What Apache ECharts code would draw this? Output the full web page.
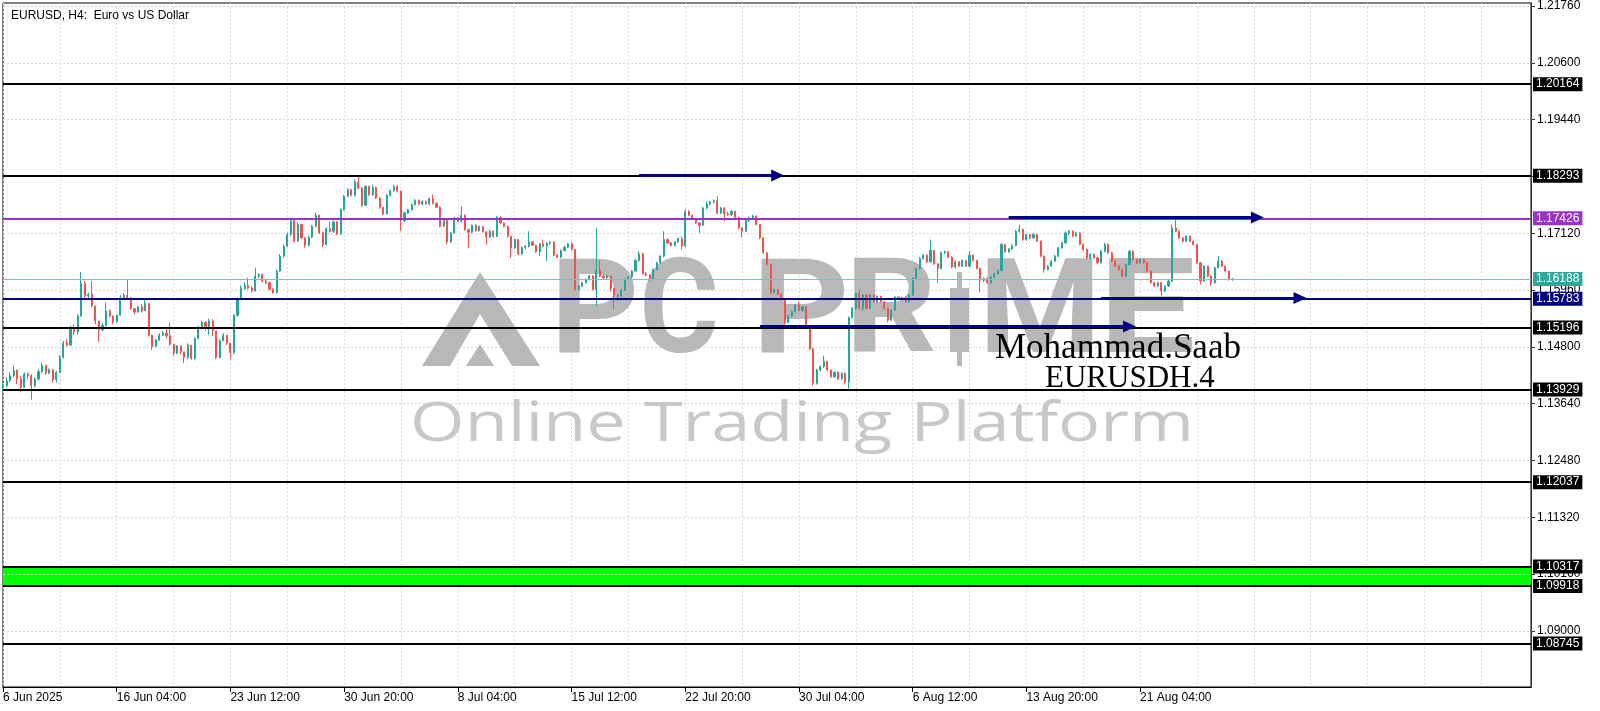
<!DOCTYPE html>
<html>
<head>
<meta charset="utf-8">
<title>EURUSD H4</title>
<script src="https://cdn.jsdelivr.net/npm/echarts@6/dist/echarts.min.js"></script>
<style>
  html, body { margin: 0; padding: 0; background: #fff; }
  #chart { width: 1600px; height: 711px; }
</style>
</head>
<body>
<div id="chart"></div>
<script>
// H4 bars starting 6 Jun 2025 20:00, each bar opens at the previous close
const firstOpen = 1.13974;
const closes = [
  1.14008,1.14110,1.14211,1.14313,1.14143,1.13974,1.14245,1.14211,1.14008,1.14143,
  1.14293,1.14428,1.14265,1.14333,1.14130,1.14279,1.14584,1.14876,1.14835,1.15174,
  1.15106,1.15432,1.16096,1.15838,1.15872,1.15635,1.15330,1.15147,1.15242,1.15533,
  1.15432,1.15310,1.15445,1.15805,1.15852,1.15805,1.15581,1.15513,1.15621,1.15533,
  1.15689,1.15039,1.14808,1.14943,1.15039,1.15079,1.15025,1.14855,1.14672,1.14821,
  1.14699,1.14584,1.14835,1.14564,1.14971,1.15215,1.15296,1.15174,1.15330,1.15127,
  1.14584,1.14923,1.15039,1.14876,1.14686,1.15445,1.15757,1.15988,1.16055,1.16000,
  1.15941,1.16246,1.16280,1.16145,1.16111,1.15975,1.15907,1.16348,1.16653,1.16857,
  1.17094,1.17379,1.16958,1.17297,1.17026,1.16876,1.17040,1.17263,1.17487,1.17128,
  1.16890,1.17216,1.17162,1.17352,1.17107,1.17602,1.17874,1.18009,1.17894,1.18165,
  1.18043,1.17690,1.18077,1.17907,1.18057,1.17840,1.17650,1.17514,1.17894,1.17989,
  1.18077,1.17975,1.17379,1.17535,1.17602,1.17704,1.17792,1.17718,1.17772,1.17718,
  1.17826,1.17731,1.17650,1.17263,1.17379,1.16944,1.17128,1.17433,1.17365,1.17487,
  1.17196,1.17141,1.17284,1.17175,1.17257,1.17148,1.17040,1.17162,1.17060,1.17446,
  1.17331,1.17263,1.17059,1.16822,1.16992,1.16700,1.16822,1.16856,1.16944,1.16876,
  1.16740,1.16903,1.16856,1.16917,1.16937,1.16673,1.16632,1.16768,1.16836,1.16903,
  1.16788,1.15974,1.16042,1.16110,1.16178,1.16246,1.15974,1.16361,1.16246,1.16212,
  1.16246,1.15995,1.15859,1.15839,1.15954,1.16178,1.16225,1.16347,1.16565,1.16700,
  1.16293,1.16266,1.16198,1.16381,1.16517,1.16653,1.16992,1.16924,1.16869,1.16944,
  1.17011,1.16856,1.17568,1.17487,1.17419,1.17331,1.17283,1.17636,1.17717,1.17758,
  1.17790,1.17534,1.17636,1.17514,1.17500,1.17568,1.17446,1.17229,1.17161,1.17378,
  1.17432,1.17470,1.17300,1.17025,1.16720,1.16483,1.15907,1.15968,1.15873,1.15771,
  1.15297,1.15432,1.15520,1.15656,1.15547,1.15615,1.15195,1.14754,1.14056,1.14327,
  1.14395,1.14503,1.14327,1.14191,1.14280,1.14144,1.14259,1.14076,1.15398,1.15588,
  1.15886,1.15588,1.15859,1.15588,1.15859,1.15724,1.15832,1.15724,1.15588,1.15344,
  1.15547,1.15818,1.15778,1.15805,1.15724,1.15859,1.16198,1.16402,1.16605,1.16673,
  1.16537,1.16768,1.16497,1.16402,1.16720,1.16741,1.16632,1.16429,1.16537,1.16449,
  1.16564,1.16449,1.16673,1.16564,1.16402,1.16157,1.16198,1.16110,1.16225,1.16293,
  1.16361,1.16890,1.16740,1.16800,1.16870,1.17161,1.17195,1.16991,1.17093,1.17025,
  1.17093,1.16957,1.16652,1.16381,1.16449,1.16551,1.16652,1.16822,1.16924,1.17127,
  1.17161,1.17059,1.17127,1.16890,1.16788,1.16618,1.16686,1.16618,1.16517,1.16754,
  1.16890,1.16720,1.16551,1.16449,1.16381,1.16246,1.16483,1.16754,1.16585,1.16517,
  1.16585,1.16517,1.16347,1.16110,1.16042,1.16110,1.15940,1.16042,1.16144,1.17229,
  1.17161,1.17025,1.16957,1.17059,1.16957,1.16890,1.16517,1.16144,1.16449,1.16246,
  1.16110,1.16415,1.16551,1.16449,1.16347,1.16178,1.16188
];
const highs = [
  1.14076,1.14177,1.14279,1.14415,1.14347,1.14211,1.14279,1.14279,1.14245,1.14177,
  1.14347,1.14482,1.14428,1.14360,1.14333,1.14313,1.14632,1.14923,1.14957,1.15228,
  1.15262,1.15466,1.16327,1.16144,1.15906,1.16144,1.15635,1.15330,1.15296,1.15703,
  1.15567,1.15432,1.15466,1.15852,1.15893,1.16177,1.15805,1.15581,1.15635,1.15669,
  1.15771,1.15689,1.15039,1.14957,1.15079,1.15127,1.15194,1.15296,1.14855,1.14835,
  1.14821,1.14699,1.14876,1.14835,1.14991,1.15228,1.15330,1.15330,1.15377,1.15364,
  1.15127,1.14957,1.15079,1.15039,1.14876,1.15466,1.15805,1.16055,1.16110,1.16211,
  1.16043,1.16416,1.16300,1.16290,1.16200,1.16130,1.16000,1.16380,1.16700,1.16890,
  1.17130,1.17433,1.17400,1.17340,1.17310,1.17040,1.17070,1.17290,1.17535,1.17500,
  1.17150,1.17240,1.17365,1.17380,1.17370,1.17630,1.17900,1.18040,1.18030,1.18212,
  1.18314,1.18060,1.18100,1.18090,1.18111,1.18070,1.17850,1.17660,1.17920,1.18010,
  1.18110,1.18100,1.17990,1.17560,1.17620,1.17730,1.17820,1.17810,1.17790,1.17790,
  1.17850,1.17907,1.17750,1.17670,1.17400,1.17390,1.17150,1.17460,1.17450,1.17670,
  1.17500,1.17210,1.17300,1.17300,1.17280,1.17270,1.17160,1.17190,1.17180,1.17470,
  1.17460,1.17340,1.17280,1.17070,1.17010,1.17000,1.16850,1.16880,1.17161,1.16960,
  1.16890,1.16920,1.16992,1.16940,1.16960,1.16960,1.16700,1.16790,1.16860,1.16920,
  1.16937,1.16800,1.16060,1.16130,1.16200,1.16270,1.16260,1.17229,1.16565,1.16280,
  1.16270,1.16260,1.16000,1.15880,1.15980,1.16200,1.16250,1.16370,1.16590,1.16754,
  1.16720,1.16330,1.16280,1.16400,1.16540,1.16670,1.17161,1.17010,1.16940,1.16960,
  1.17030,1.17059,1.17602,1.17590,1.17500,1.17430,1.17340,1.17660,1.17771,1.17780,
  1.17810,1.17873,1.17660,1.17650,1.17560,1.17590,1.17580,1.17460,1.17240,1.17400,
  1.17460,1.17500,1.17480,1.17310,1.17040,1.16740,1.16500,1.15990,1.15990,1.15890,
  1.15790,1.15450,1.15540,1.15680,1.15724,1.15640,1.15630,1.15200,1.14780,1.14350,
  1.14420,1.14619,1.14520,1.14340,1.14300,1.14300,1.14280,1.14280,1.15420,1.15615,
  1.15910,1.15975,1.15880,1.15870,1.15880,1.15870,1.15850,1.15840,1.15740,1.15600,
  1.15570,1.15840,1.15830,1.15830,1.15830,1.15880,1.16220,1.16420,1.16630,1.16700,
  1.16690,1.16991,1.16780,1.16510,1.16750,1.16770,1.16760,1.16650,1.16560,1.16550,
  1.16590,1.16580,1.16754,1.16690,1.16580,1.16420,1.16220,1.16220,1.16250,1.16310,
  1.16380,1.16920,1.16900,1.16820,1.16890,1.17190,1.17296,1.17210,1.17110,1.17110,
  1.17120,1.17110,1.16970,1.16670,1.16470,1.16570,1.16680,1.16840,1.16950,1.17161,
  1.17190,1.17180,1.17150,1.17140,1.16910,1.16810,1.16710,1.16710,1.16640,1.16780,
  1.16924,1.16910,1.16740,1.16570,1.16470,1.16400,1.16500,1.16780,1.16770,1.16600,
  1.16610,1.16600,1.16540,1.16360,1.16130,1.16130,1.16130,1.16060,1.16170,1.17296,
  1.17398,1.17180,1.17040,1.17080,1.17070,1.16970,1.16900,1.16530,1.16470,1.16460,
  1.16260,1.16440,1.16652,1.16570,1.16460,1.16360,1.16200
];
const lows = [
  1.13906,1.13974,1.14076,1.14177,1.14042,1.13872,1.13954,1.14143,1.13723,1.13974,
  1.14110,1.14265,1.14225,1.14245,1.14076,1.14076,1.14265,1.14564,1.14808,1.14835,
  1.15039,1.15052,1.15418,1.15784,1.15771,1.15601,1.15262,1.14903,1.15127,1.15215,
  1.15398,1.15262,1.15296,1.15445,1.15771,1.15784,1.15554,1.15466,1.15499,1.15499,
  1.15533,1.15011,1.14740,1.14808,1.14923,1.15025,1.14971,1.14821,1.14618,1.14652,
  1.14652,1.14469,1.14550,1.14537,1.14537,1.14957,1.15194,1.15127,1.15039,1.15025,
  1.14550,1.14564,1.14923,1.14835,1.14550,1.14652,1.15418,1.15757,1.15974,1.15974,
  1.15907,1.15930,1.16200,1.16120,1.16080,1.15950,1.15887,1.15890,1.16330,1.16620,
  1.16840,1.17060,1.16930,1.16950,1.17000,1.16823,1.16850,1.17020,1.17240,1.17100,
  1.16836,1.16870,1.17130,1.17128,1.17080,1.17090,1.17580,1.17850,1.17870,1.17870,
  1.18020,1.17660,1.17680,1.17880,1.17890,1.17820,1.17620,1.17490,1.17501,1.17870,
  1.17970,1.17950,1.17162,1.17350,1.17510,1.17580,1.17690,1.17700,1.17690,1.17700,
  1.17700,1.17710,1.17630,1.17240,1.17250,1.16890,1.16920,1.17110,1.17340,1.17340,
  1.17170,1.16823,1.17120,1.17150,1.17150,1.17130,1.16890,1.17020,1.17030,1.17040,
  1.17310,1.17240,1.17030,1.16619,1.16800,1.16670,1.16680,1.16790,1.16830,1.16860,
  1.16720,1.16653,1.16830,1.16551,1.16880,1.16650,1.16610,1.16610,1.16750,1.16820,
  1.16770,1.15941,1.15950,1.16020,1.16090,1.16160,1.15950,1.15635,1.16220,1.16190,
  1.16190,1.15927,1.15568,1.15737,1.15820,1.15940,1.16160,1.16200,1.16330,1.16540,
  1.16270,1.16240,1.16144,1.16180,1.16360,1.16500,1.16630,1.16900,1.16850,1.16850,
  1.16920,1.16788,1.16840,1.17470,1.17400,1.17310,1.17127,1.17270,1.17610,1.17690,
  1.17720,1.17510,1.17510,1.17364,1.17470,1.17470,1.17420,1.17200,1.17025,1.17140,
  1.17350,1.17400,1.17280,1.17000,1.16700,1.16460,1.15873,1.15890,1.15850,1.15750,
  1.15250,1.15280,1.15400,1.15500,1.15520,1.15520,1.15170,1.14730,1.14008,1.14030,
  1.14300,1.14370,1.14300,1.14170,1.14170,1.14120,1.14120,1.14028,1.13941,1.15380,
  1.15560,1.15560,1.15534,1.15560,1.15570,1.15700,1.15700,1.15700,1.15560,1.15297,
  1.15330,1.15530,1.15760,1.15740,1.15700,1.15700,1.15840,1.16180,1.16380,1.16580,
  1.16510,1.16520,1.16470,1.16110,1.16380,1.16690,1.16610,1.16400,1.16400,1.16430,
  1.16430,1.16430,1.16430,1.16540,1.16380,1.15907,1.16120,1.16090,1.16090,1.16200,
  1.16270,1.16340,1.16720,1.16720,1.16780,1.16850,1.17130,1.16970,1.16970,1.17000,
  1.17000,1.16940,1.16630,1.16313,1.16360,1.16430,1.16530,1.16630,1.16800,1.16900,
  1.17080,1.17040,1.17040,1.16870,1.16760,1.16600,1.16590,1.16600,1.16483,1.16500,
  1.16730,1.16700,1.16530,1.16430,1.16360,1.16212,1.16230,1.16460,1.16560,1.16490,
  1.16490,1.16500,1.16320,1.16090,1.16020,1.16020,1.15839,1.15920,1.16020,1.16120,
  1.17140,1.17000,1.16930,1.16940,1.16930,1.16870,1.16490,1.16076,1.16130,1.16220,
  1.16042,1.16090,1.16400,1.16430,1.16320,1.16150,1.16150
];

// bar slots on the time axis (bars + empty right shift), labels every 32 bars
const slotCount = 431;
const tickStep = 32;
const gridStep = 16;
const tickLabels = ['6 Jun 2025', '16 Jun 04:00', '23 Jun 12:00', '30 Jun 20:00', '8 Jul 04:00',
  '15 Jul 12:00', '22 Jul 20:00', '30 Jul 04:00', '6 Aug 12:00', '13 Aug 20:00', '21 Aug 04:00'];

// price scale
const yMin = 1.07855;
const yMax = 1.21821;
const priceTicks = [1.09, 1.1016, 1.1132, 1.1248, 1.1364, 1.148, 1.1596, 1.1712, 1.1828, 1.1944, 1.206, 1.2176];

// horizontal levels
const blackLevels = [1.20164, 1.18293, 1.15196, 1.13929, 1.12037, 1.10317, 1.09918, 1.08745];
const purpleLevel = 1.17426;
const navyLevel = 1.15783;
const lastPrice = 1.16188;
const greenZone = [1.09918, 1.10317];

// arrowed trend lines: bar index from / to, price
const arrowFrom = [179, 283, 309, 213];
const arrowTo = [218, 353, 365, 317];
const arrowLevel = [1.18300, 1.17440, 1.15800, 1.15215];

const candles = closes.map((c, i) => {
  const o = i === 0 ? firstOpen : closes[i - 1];
  return [o, c, Math.min(lows[i], o, c), Math.max(highs[i], o, c)];
});
const slots = Array.from({ length: slotCount }, (_, i) => String(i));

const axisFont = '"Liberation Sans", Arial, sans-serif';
const isTick = (i) => i % tickStep === 0 && i / tickStep < tickLabels.length;

const level = (v, color, width, bg) => ({
  yAxis: v, lineStyle: { color, width, type: 'solid' }, label: { backgroundColor: bg }
});
const levelData = blackLevels.map(v => level(v, '#000', 2, '#000'));
levelData.push(level(purpleLevel, '#9932cc', 2, '#9932cc'));
levelData.push(level(navyLevel, '#000080', 2, '#000080'));
levelData.push(level(lastPrice, '#7fc2bd', 1, '#2ea79a'));

// text measuring for the watermark
const mctx = document.createElement('canvas').getContext('2d');
function inkWidth(text, font) {
  mctx.font = font;
  const m = mctx.measureText(text);
  return (m.actualBoundingBoxLeft + m.actualBoundingBoxRight) || m.width;
}

const wmFill = '#b8b8b8';
const logoFont = 'bold 132px Roboto, "Noto Sans", sans-serif';
const logoLetters = [['P', 595, 76], ['C', 679, 72], ['P', 801, 84], ['R', 891, 80], ['M', 1040, 106], ['E', 1147, 84]];
const graphics = logoLetters.map(([ch, cx, w]) => ({
  type: 'text', x: cx, y: 319, z: 1.6, silent: true,
  scaleX: w / inkWidth(ch, logoFont),
  style: { text: ch, font: logoFont, fill: wmFill, textAlign: 'center', textVerticalAlign: 'middle' }
}));
// stylised A without crossbar
graphics.push({
  type: 'polygon', z: 1.6, silent: true,
  shape: { points: [[422, 366], [480, 272], [540, 366], [512, 366], [480, 314], [450, 366]] },
  style: { fill: wmFill }
});
graphics.push({
  type: 'polygon', z: 1.6, silent: true,
  shape: { points: [[466, 366], [480, 344], [494, 366]] },
  style: { fill: wmFill }
});
// candle-shaped I
graphics.push({ type: 'rect', z: 1.6, silent: true, shape: { x: 950, y: 288, width: 19, height: 64 }, style: { fill: wmFill } });
graphics.push({ type: 'rect', z: 1.6, silent: true, shape: { x: 957, y: 272, width: 5, height: 94 }, style: { fill: wmFill } });

const tagFont = 'normal 54px "Open Sans", sans-serif';
graphics.push({
  type: 'text', x: 410, y: 426, z: 1.6, silent: true,
  scaleX: 775 / inkWidth('Online Trading Platform', tagFont),
  style: { text: 'Online Trading Platform', font: tagFont, fill: '#c8c8c8', textAlign: 'left', textVerticalAlign: 'middle' }
});
graphics.push({
  type: 'text', x: 995, y: 349, z: 10, silent: true,
  style: { text: 'Mohammad.Saab', font: '35px "Liberation Serif", "Times New Roman", serif', fill: '#000', textAlign: 'left', textVerticalAlign: 'middle' }
});
graphics.push({
  type: 'text', x: 1045, y: 379, z: 10, silent: true,
  style: { text: 'EURUSDH.4', font: '31px "Liberation Serif", "Times New Roman", serif', fill: '#000', textAlign: 'left', textVerticalAlign: 'middle' }
});

const chart = echarts.init(document.getElementById('chart'));
chart.setOption({
  animation: false,
  backgroundColor: '#fff',
  title: {
    text: 'EURUSD, H4:  Euro vs US Dollar',
    left: 6, top: 5,
    textStyle: { fontSize: 12, fontWeight: 'normal', color: '#000', fontFamily: axisFont }
  },
  grid: { left: 3, right: 69, top: 1, bottom: 24, show: true, borderColor: '#000', borderWidth: 1 },
  xAxis: {
    type: 'category',
    data: slots,
    boundaryGap: false,
    axisLine: { show: true, lineStyle: { color: '#000', width: 1 } },
    axisTick: { show: true, interval: isTick, length: 5, lineStyle: { color: '#000' } },
    axisLabel: {
      interval: isTick,
      formatter: (v, i) => tickLabels[i / tickStep],
      align: 'left', margin: 5, fontSize: 12, color: '#000', fontFamily: axisFont
    },
    splitLine: { show: true, interval: (i) => i % gridStep === 0, lineStyle: { color: '#dcdcdc', type: [2, 2] } }
  },
  yAxis: {
    type: 'value',
    position: 'right',
    min: yMin, max: yMax,
    axisLine: { show: true, lineStyle: { color: '#333' } },
    axisTick: { show: true, customValues: priceTicks, length: 4, lineStyle: { color: '#333' } },
    axisLabel: {
      customValues: priceTicks, formatter: v => v.toFixed(5),
      margin: 6, fontSize: 12, color: '#000', fontFamily: axisFont
    },
    splitLine: { show: false }
  },
  graphic: { elements: graphics },
  series: [
    {
      name: 'zone', type: 'line', data: [], silent: true,
      markArea: { z: 1, silent: true, itemStyle: { color: '#00ff00' }, data: [[{ yAxis: greenZone[0] }, { yAxis: greenZone[1] }]] }
    },
    {
      name: 'grid', type: 'line', data: [], silent: true,
      markLine: {
        z: 1.5, silent: true, symbol: 'none', animation: false, precision: 5,
        label: { show: false },
        lineStyle: { color: '#d6d6d6', type: [2, 2], width: 1 },
        data: priceTicks.map(v => ({ yAxis: v }))
      }
    },
    {
      name: 'EURUSD', type: 'candlestick', z: 2, silent: true,
      barWidth: 1.6,
      data: candles,
      itemStyle: { color: '#26a69a', color0: '#ef5350', borderColor: '#26a69a', borderColor0: '#ef5350', borderWidth: 1 }
    },
    {
      name: 'levels', type: 'line', data: [], silent: true,
      markLine: {
        z: 5, silent: true, symbol: 'none', animation: false, precision: 5,
        label: {
          show: true, position: 'end', distance: 2,
          formatter: p => Number(p.value).toFixed(5),
          color: '#fff', fontSize: 12, fontFamily: axisFont, padding: [1, 3, 0, 3], lineHeight: 13
        },
        data: levelData
      }
    },
    {
      name: 'arrows', type: 'line', data: [], silent: true,
      markLine: {
        z: 6, silent: true, animation: false, precision: 5,
        symbol: ['none', 'triangle'], symbolSize: [12, 13],
        label: { show: false },
        lineStyle: { color: '#000080', width: 3, type: 'solid' },
        data: arrowFrom.map((a, k) => [{ coord: [a, arrowLevel[k]] }, { coord: [arrowTo[k], arrowLevel[k]] }])
      }
    }
  ]
});
window.addEventListener('resize', () => chart.resize());
</script>
</body>
</html>
